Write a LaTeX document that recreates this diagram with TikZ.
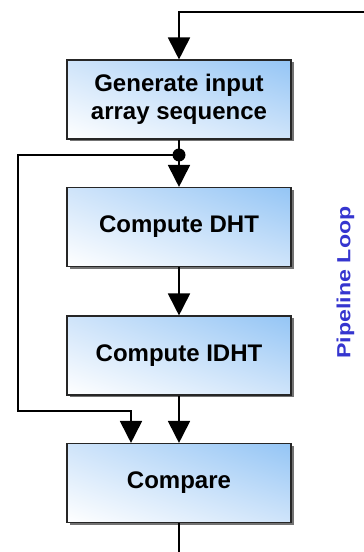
\documentclass[tikz,border=0pt]{standalone}
\usepackage{fontspec}
\setmainfont{Liberation Sans}
\usepackage{xcolor}
\usetikzlibrary{arrows.meta,positioning,calc,shadows,shadings}

\definecolor{boxblue}{HTML}{94C5F5}
\definecolor{boxmid}{HTML}{CFE4FA}
\definecolor{loopblue}{HTML}{3535CF}

\tikzset{
  stage/.style={draw=black!85, line width=1.1pt, minimum width=224pt, minimum height=79pt,
    align=center, inner sep=0pt, font=\fontsize{24}{28}\selectfont\bfseries,
    lower left=white, upper right=boxblue, upper left=boxmid, lower right=boxmid,
    drop shadow={shadow xshift=2.5pt, shadow yshift=-2.5pt, fill=black!55, opacity=1}},
  flow/.style={line width=1.8pt, -{Triangle[width=22pt,length=22pt]}},
  wire/.style={line width=1.8pt}
}

\begin{document}
\begin{tikzpicture}[x=1pt, y=1pt]
  % Page frame
  \useasboundingbox (0,0) rectangle (364,552);

  % Pipeline stages
  \node[stage] (gen)  at (179, 452.5) {Generate input\\array sequence};
  \node[stage] (dht)  at (179, 325)   {Compute DHT};
  \node[stage] (idht) at (179, 196.5) {Compute IDHT};
  \node[stage] (cmp)  at (179, 69)    {Compare};

  % Loop label
  \node[text=loopblue, font=\fontsize{19}{22}\selectfont\bfseries, rotate=90] (looplbl)
    at (345.5, 269.5) {\scalebox{1.22}[1]{Pipeline Loop}};

  % Helper points
  \coordinate (feed)  at (364, 540);
  \coordinate (split) at (179, 397);
  \coordinate (exit)  at (179, 0);

  % Connectors
  \draw[flow] (feed) -| (gen.north);
  \draw[wire] (gen.south) -- (split);
  \draw[flow] (split) -- (dht.north);
  \draw[flow] (dht.south) -- (idht.north);
  \draw[flow] (idht.south) -- (cmp.north);
  \draw[flow] (split) -- (18, 397) -- (18, 141) -| ($(cmp.north)+(-48,0)$);
  \draw[wire] (cmp.south) -- (exit);
  \fill (split) circle (6.5pt);
\end{tikzpicture}
\end{document}
